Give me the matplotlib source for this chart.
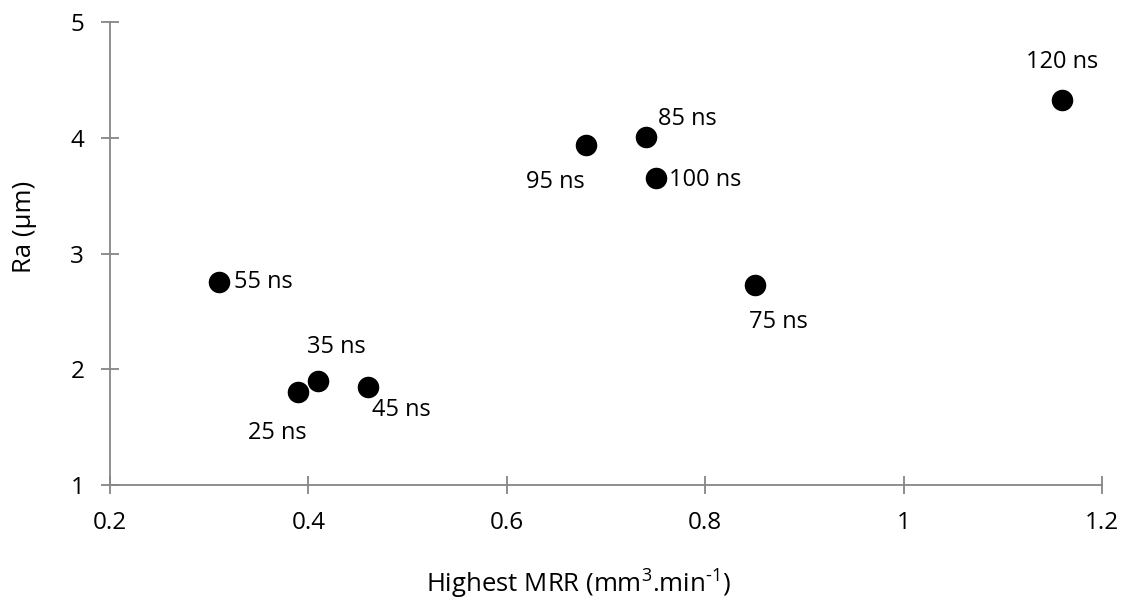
import matplotlib.pyplot as plt

# datos
mrr = [0.31, 0.39, 0.41, 0.46, 0.68, 0.74, 0.75, 0.85, 1.16]
ra = [2.75, 1.80, 1.90, 1.85, 3.94, 4.01, 3.65, 2.73, 4.33]
etiquetas = ["55 ns", "25 ns", "35 ns", "45 ns", "95 ns", "85 ns", "100 ns", "75 ns", "120 ns"]

# desplazamiento de cada etiqueta (puntos) y alineacion
desp = [(11, 0, "left"), (-15, -29, "center"), (13, 24, "center"), (3, -17, "left"),
        (-22, -27, "center"), (9, 13, "left"), (10, -1, "left"), (17, -27, "center"),
        (0, 27, "center")]

plt.rcParams['font.family'] = ['Open Sans', 'DejaVu Sans']
plt.rcParams['mathtext.fontset'] = 'custom'
plt.rcParams['mathtext.rm'] = 'Open Sans'

fig = plt.figure(figsize=(11.36, 6.03), dpi=100)
ax = fig.add_axes([0.0968, 0.1957, 0.8732, 0.7678])

ax.plot(mrr, ra, 'o', color='black', markersize=14.5, clip_on=False)

for x, y, t, (dx, dy, ha) in zip(mrr, ra, etiquetas, desp):
    ax.annotate(t, (x, y), xytext=(dx, dy), textcoords='offset points',
                ha=ha, va='center', fontsize=17)

ax.set_xlim(0.2, 1.2)
ax.set_ylim(1, 5)
ax.set_xticks([0.2, 0.4, 0.6, 0.8, 1.0, 1.2])
ax.set_xticklabels(["0.2", "0.4", "0.6", "0.8", "1", "1.2"])
ax.set_yticks([1, 2, 3, 4, 5])

for s in ['top', 'right']:
    ax.spines[s].set_visible(False)
for s in ['left', 'bottom']:
    ax.spines[s].set_color('#868686')
    ax.spines[s].set_linewidth(1.3)

ax.tick_params(direction='inout', length=13, width=1.3, color='#868686',
               labelsize=17.5, pad=12)

ax.set_ylabel('Ra (µm)', fontsize=18.5)
ax.set_xlabel(r'Highest MRR (mm$^3$.min$^{\text{-}1}$)', fontsize=18.5)
ax.yaxis.set_label_coords(-0.074, 0.557)
ax.xaxis.set_label_coords(0.472, -0.176)

fig.savefig('out.png')
